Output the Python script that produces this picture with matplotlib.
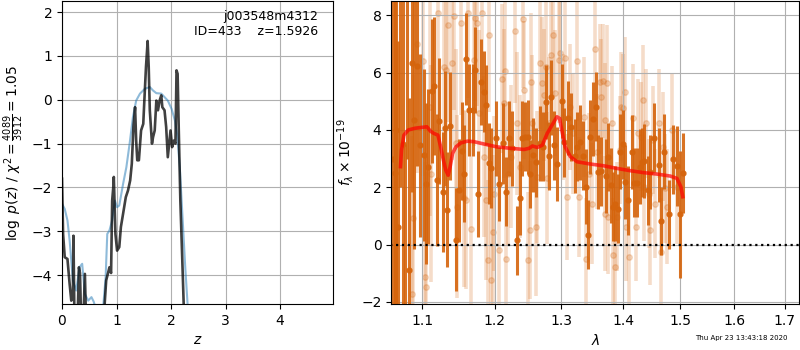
import matplotlib
matplotlib.use('Agg')
import numpy as np
import matplotlib.pyplot as plt

# Left panel: log p(z)
z_chi = [0.00, 0.02, 0.05, 0.10, 0.14, 0.17, 0.20, 0.21, 0.23, 0.28,
         0.31, 0.33, 0.35, 0.39, 0.42, 0.45, 0.60, 0.75, 0.78, 0.81,
         0.87, 0.90, 0.92, 0.94, 0.95, 0.98, 1.01, 1.05, 1.08, 1.12,
         1.17, 1.21, 1.25, 1.28, 1.31, 1.34, 1.36, 1.38, 1.41, 1.45,
         1.49, 1.51, 1.54, 1.56, 1.57, 1.59, 1.61, 1.65, 1.67, 1.70,
         1.73, 1.76, 1.79, 1.82, 1.84, 1.88, 1.91, 1.94, 1.99, 2.02,
         2.05, 2.08, 2.10, 2.12, 2.14, 2.17, 2.21, 2.24, 2.30]
logp_chi = [-1.80, -3.06, -3.59, -3.63, -4.20, -4.58, -4.35, -3.10, -5.20, -5.30,
            -3.82, -3.95, -5.00, -5.10, -3.97, -5.50, -6.00, -5.50, -4.70, -4.12,
            -3.82, -3.95, -2.30, -2.00, -1.76, -3.06, -3.44, -3.36, -2.90, -2.60,
            -2.22, -2.07, -1.84, -1.46, -0.62, -0.17, -0.93, -1.38, -1.38, -0.70,
            -0.55, -0.02, 0.75, 1.13, 1.34, 0.75, -0.24, -1.00, -0.85, -0.70,
            -0.02, -0.24, -0.02, 0.10, -0.17, -0.24, -0.62, -1.31, -0.70, -1.08,
            -0.93, -1.00, 0.67, 0.59, -0.62, -2.30, -3.82, -5.00, -6.50]

z_prior = [0.00, 0.05, 0.10, 0.14, 0.20, 0.26, 0.32, 0.37, 0.42, 0.48,
           0.54, 0.58, 0.63, 0.75, 0.80, 0.83, 0.87, 0.92, 0.97, 1.01,
           1.05, 1.12, 1.18, 1.24, 1.30, 1.36, 1.43, 1.52, 1.61, 1.67,
           1.73, 1.82, 1.88, 1.94, 2.01, 2.07, 2.11, 2.16, 2.21, 2.26,
           2.32, 2.40]
logp_prior = [-2.37, -2.49, -2.75, -3.21, -4.12, -4.35, -3.82, -3.74, -4.43, -4.58,
              -4.50, -4.60, -4.80, -4.80, -4.05, -3.06, -2.98, -2.75, -2.30, -2.45,
              -2.41, -1.92, -1.54, -1.00, -0.40, -0.02, 0.14, 0.25, 0.29, 0.21,
              0.15, 0.14, 0.06, -0.02, -0.21, -0.47, -0.78, -1.54, -2.68, -3.82,
              -5.00, -6.00]

# Right panel: binned spectrum
bin_wave = [1.0620, 1.0640, 1.0660, 1.0685, 1.0705, 1.0740, 1.0770, 1.0800,
            1.0824, 1.0864, 1.0894, 1.0934, 1.0965, 1.1018, 1.1053,
            1.1075, 1.1125, 1.1156, 1.1192, 1.1228, 1.1269, 1.1305, 1.1333,
            1.1374, 1.1458, 1.1490, 1.1535, 1.1567, 1.1597, 1.1629, 1.1690,
            1.1723, 1.1755, 1.1799, 1.1842, 1.1876, 1.1913, 1.1952, 1.2015,
            1.2065, 1.2115, 1.2160, 1.2205, 1.2255, 1.2325, 1.2370, 1.2405,
            1.2445, 1.2490, 1.2515, 1.2560, 1.2610, 1.2665, 1.2715, 1.2765,
            1.2815, 1.2845, 1.2890, 1.2935, 1.3005, 1.3048, 1.3097, 1.3151,
            1.3210, 1.3247, 1.3290, 1.3339, 1.3382, 1.3419, 1.3462, 1.3495,
            1.3549, 1.3586, 1.3635, 1.3710, 1.3753, 1.3796, 1.3834, 1.3871,
            1.3914, 1.3946, 1.4000, 1.4035, 1.4088, 1.4146, 1.4187, 1.4234,
            1.4281, 1.4322, 1.4363, 1.4427, 1.4456, 1.4538, 1.4614, 1.4661,
            1.4714, 1.4801, 1.4860, 1.4936, 1.5000, 1.5054]
bin_flux = [3.0, 2.5, 4.0, 0.62, 9.0, 3.5, -3.0, 9.0,
            -0.90, 6.33, 4.35, 6.24, 3.46, 3.12, 2.13,
            2.72, 5.36, 5.54, 2.25, 4.31, 1.84, 4.06, 1.22,
            4.14, 0.17, 1.90, 3.27, 2.48, 6.47, 4.70, 4.70,
            6.10, 1.75, 5.69, 5.34, 4.87, 2.83, 2.66, 3.71,
            2.11, 3.53, 1.84, 3.71, 3.36, 0.15, 1.63, 3.71,
            3.76, 3.76, 2.46, 3.12, 2.87, 3.53, 3.42, 4.98,
            3.09, 5.14, 3.47, 2.81, 5.01, 3.57, 4.42, 4.10,
            3.10, 3.42, 3.57, 3.10, 2.02, 0.35, 3.76, 4.39,
            4.81, 2.54, 2.56, 2.39, 3.06, 2.07, 1.32, 1.43,
            1.25, 3.24, 3.50, 2.19, 1.55, 3.23, 2.16, 2.16,
            2.72, 2.87, 2.91, 1.90, 2.54, 3.73, 2.77, 0.82,
            3.24, 1.05, 2.97, 2.75, 1.05, 2.51]
bin_err = [9.0, 8.5, 8.0, 6.5, 7.0, 6.5, 6.5, 6.0,
           6.0, 4.5, 4.5, 3.5, 3.2, 3.0, 2.8,
           2.7, 2.5, 2.4, 2.3, 2.2, 2.1, 2.0, 2.0,
           1.9, 1.8, 1.8, 1.7, 1.7, 1.6, 1.6, 1.6,
           1.5, 1.5, 1.5, 1.4, 1.4, 1.4, 1.4, 1.3,
           1.3, 1.4, 1.2, 1.3, 1.3, 1.2, 1.3, 1.3,
           1.2, 1.3, 1.2, 1.3, 1.2, 1.3, 1.2, 1.3,
           1.2, 1.3, 1.2, 1.3, 1.3, 1.2, 1.3, 1.2,
           1.3, 1.2, 1.3, 1.2, 1.3, 1.2, 1.3, 1.3,
           1.2, 1.3, 1.2, 1.3, 1.2, 1.3, 1.2, 1.3,
           1.2, 1.3, 1.2, 1.3, 1.2, 1.3, 1.2, 1.2,
           1.3, 1.2, 1.3, 1.2, 1.3, 1.2, 1.3, 1.2,
           1.3, 1.2, 1.2, 1.4, 2.2, 1.4]

# Right panel: unbinned spectrum
raw_wave = [1.0859, 1.0872, 1.0934, 1.1014, 1.1037, 1.1046, 1.1106, 1.1115,
            1.1207, 1.1290, 1.1313, 1.1346, 1.1392, 1.1420, 1.1452, 1.1466,
            1.1521, 1.1558, 1.1585, 1.1613, 1.1659, 1.1705, 1.1719, 1.1751,
            1.1774, 1.1821, 1.1844, 1.1867, 1.1899, 1.1913, 1.1945, 1.1968,
            1.1982, 1.2055, 1.2105, 1.2130, 1.2155, 1.2165, 1.2190, 1.2230,
            1.2290, 1.2330, 1.2370, 1.2415, 1.2430, 1.2490, 1.2520, 1.2530,
            1.2550, 1.2615, 1.2630, 1.2670, 1.2695, 1.2730, 1.2755, 1.2780,
            1.2805, 1.2840, 1.2870, 1.2905, 1.2955, 1.2980, 1.3032, 1.3059,
            1.3086, 1.3129, 1.3183, 1.3247, 1.3274, 1.3355, 1.3382, 1.3436,
            1.3490, 1.3543, 1.3570, 1.3613, 1.3635, 1.3667, 1.3705, 1.3707,
            1.3726, 1.3748, 1.3812, 1.3839, 1.3866, 1.3903, 1.3946, 1.3973,
            1.4000, 1.4029, 1.4047, 1.4099, 1.4176, 1.4211, 1.4246, 1.4304,
            1.4339, 1.4363, 1.4398, 1.4439, 1.4468, 1.4515, 1.4556, 1.4614,
            1.4655, 1.4690, 1.4731, 1.4761, 1.4848, 1.4936]
raw_flux = [-1.71, 0.91, 7.00, 6.40, -1.13, -1.48, 4.80, 2.48,
            8.10, 6.20, 6.10, 7.67, 6.35, 7.98, 3.53, 1.32,
            7.73, 1.61, 1.55, 8.10, 0.56, 6.45, 7.90, 7.73,
            4.58, 8.08, 3.07, 1.55, -0.55, 7.32, -1.25, 0.44,
            1.78, -0.20, 5.78, 4.93, 6.06, -0.51, 2.48, 3.07,
            7.44, 4.23, 2.72, 7.87, 5.40, -0.55, 0.50, 5.69,
            4.23, 0.62, 2.37, 6.35, 5.65, 5.22, 6.21, 2.31,
            4.23, 6.62, 7.32, 5.28, 6.45, 6.68, 4.46, 6.50,
            1.67, 4.81, 3.88, 6.41, 1.67, 4.46, -0.49, 2.48,
            1.43, 6.83, 3.24, 5.69, 5.16, 5.71, 4.35, 1.08,
            5.65, 0.97, 4.25, -0.37, -0.78, 0.97, 3.30, 4.81,
            4.76, 5.34, 0.62, -0.43, 4.41, 0.62, 3.88, 3.76,
            5.05, 2.02, 4.23, 1.78, 0.50, 3.65, 1.43, 4.23,
            -0.26, 3.42, 1.96, 1.32, 4.00, 2.02]
raw_err = [5.5, 5.0, 4.5, 4.0, 4.0, 4.0, 3.8, 3.8,
           3.6, 3.5, 3.5, 3.4, 3.4, 3.3, 3.3, 3.2,
           3.2, 3.1, 3.1, 3.0, 3.0, 3.0, 2.9, 2.9,
           2.9, 2.8, 2.8, 2.8, 2.8, 2.7, 2.7, 2.7,
           2.7, 2.6, 2.6, 2.6, 2.6, 2.6, 2.5, 2.5,
           2.5, 2.5, 2.5, 2.4, 2.4, 2.4, 2.4, 2.4,
           2.4, 2.4, 2.3, 2.3, 2.3, 2.3, 2.3, 2.3,
           2.3, 2.3, 2.2, 2.2, 2.2, 2.2, 2.2, 2.2,
           2.2, 2.2, 2.1, 2.1, 2.1, 2.1, 2.1, 2.1,
           2.1, 2.0, 2.0, 2.0, 2.0, 2.0, 2.0, 2.0,
           2.0, 2.0, 2.0, 2.0, 2.0, 1.9, 1.9, 1.9,
           1.9, 1.9, 1.9, 1.9, 1.9, 1.9, 1.9, 1.9,
           1.9, 1.9, 1.9, 1.9, 1.9, 1.9, 1.9, 1.9,
           1.9, 1.9, 1.9, 2.0, 2.0, 2.0]

# Right panel: best-fit model
model_wave = [1.0714, 1.0727, 1.0758, 1.0815, 1.0903, 1.0991, 1.1060, 1.1106,
              1.1152, 1.1207, 1.1244, 1.1281, 1.1313, 1.1346, 1.1373, 1.1406,
              1.1452, 1.1521, 1.1613, 1.1705, 1.1844, 1.2030, 1.2230, 1.2430,
              1.2505, 1.2555, 1.2630, 1.2705, 1.2780, 1.2855, 1.2930, 1.2970,
              1.3005, 1.3059, 1.3140, 1.3247, 1.3463, 1.3677, 1.3892, 1.4117,
              1.4351, 1.4585, 1.4819, 1.4936, 1.5006, 1.5041]
model_flux = [2.72, 3.30, 3.82, 4.00, 4.06, 4.09, 4.11, 3.96,
              3.88, 3.82, 3.41, 2.95, 2.60, 2.42, 2.72, 3.18,
              3.41, 3.55, 3.61, 3.59, 3.51, 3.41, 3.36, 3.32,
              3.36, 3.44, 3.39, 3.47, 3.88, 4.17, 4.46, 4.41,
              4.00, 3.41, 3.07, 2.89, 2.81, 2.75, 2.66, 2.58,
              2.51, 2.46, 2.39, 2.31, 2.02, 1.67]

lam_ticks = [1.1, 1.2, 1.3, 1.4, 1.5, 1.6, 1.7]
spec_color = '#d5640c'

fig = plt.figure(figsize=(8, 3.5), dpi=100)
ax = fig.add_axes([0.0775, 0.131, 0.3388, 0.866])
ax2 = fig.add_axes([0.489, 0.131, 0.510, 0.866])

# p(z)
ax.plot(z_prior, logp_prior, color='tab:blue', alpha=0.5, lw=1.5)
ax.plot(z_chi, logp_chi, color='k', alpha=0.75, lw=1.9)
ax.set_xlim(0, 4.97)
ax.set_ylim(-4.66, 2.25)
ax.set_xticks([0, 1, 2, 3, 4])
ax.set_xlabel(r'$z$')
ax.set_ylabel(r'$\log\ p(z)$ / $\chi^2=\frac{4089}{3912}=1.05$')
ax.grid()
ax.text(0.945, 0.97, 'j003548m4312\nID=433    z=1.5926', ha='right', va='top',
        transform=ax.transAxes, fontsize=9)

# spectrum
ax2.errorbar(raw_wave, raw_flux, raw_err, fmt='o', color=spec_color,
             alpha=0.22, ms=4, elinewidth=2.6, zorder=1)
ax2.errorbar(bin_wave, bin_flux, bin_err, fmt='o', color=spec_color,
             alpha=0.9, ms=3.5, elinewidth=2.2, zorder=2)
ax2.plot(model_wave, model_flux, color='r', alpha=0.7, lw=2.6, zorder=3)
ax2.plot([1.0, 1.8], [0, 0], color='k', linestyle=':', lw=1.6, zorder=4)
ax2.set_xscale('log')
ax2.set_xlim(1.0595, 1.73)
ax2.set_ylim(-2.08, 8.5)
ax2.set_xticks(lam_ticks)
ax2.set_xticklabels(['%.1f' % t for t in lam_ticks])
ax2.xaxis.set_minor_locator(matplotlib.ticker.NullLocator())
ax2.set_xlabel(r'$\lambda$')
ax2.set_ylabel(r'$f_\lambda\times10^{-19}$')
ax2.grid()

fig.text(0.984, 0.025, 'Thu Apr 23 13:43:18 2020', ha='right', va='bottom',
         fontsize=5)

fig.savefig('out.png', dpi=100)
